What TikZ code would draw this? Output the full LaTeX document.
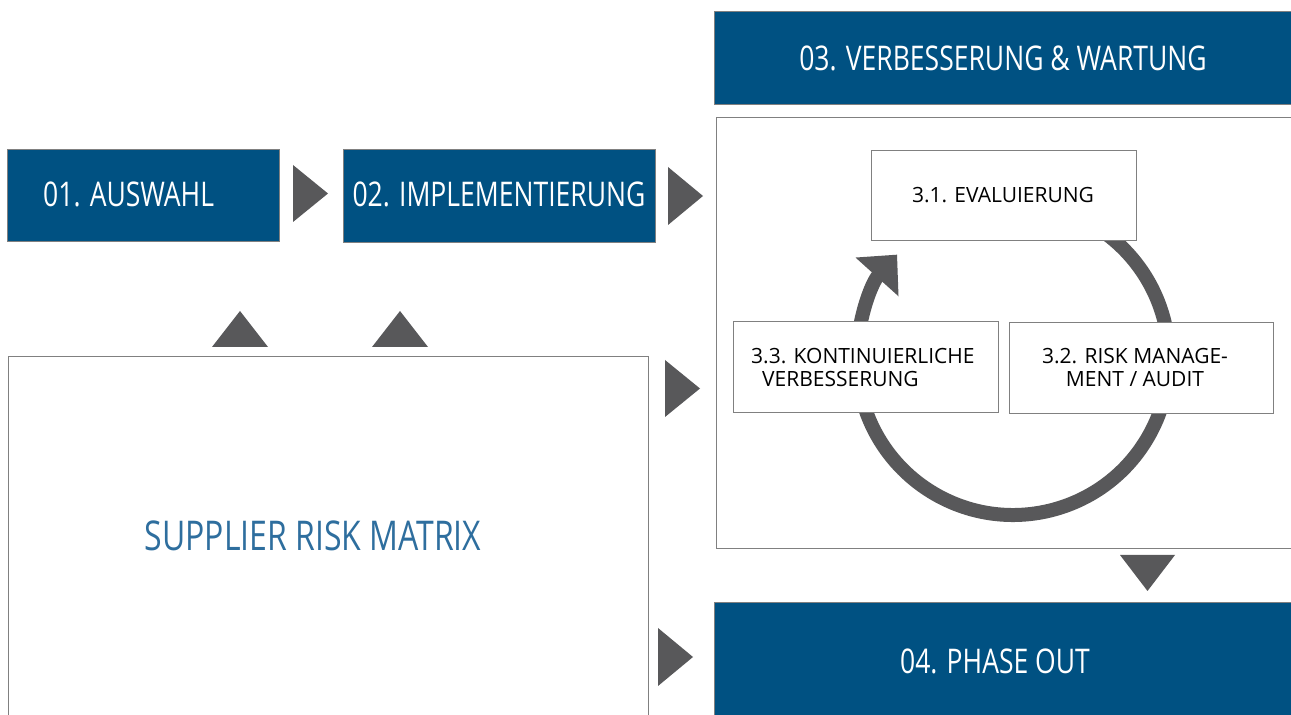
\documentclass[tikz,border=0pt]{standalone}
\usepackage{fontspec}
\setmainfont{Open Sans}
\newfontfamily\headfont[FakeStretch=0.78]{Open Sans}
\usetikzlibrary{arrows.meta}
\definecolor{navy}{HTML}{005182}
\definecolor{trigray}{HTML}{58585A}
\definecolor{framegray}{HTML}{808080}
\definecolor{matrixblue}{HTML}{2E6E9E}
\begin{document}
\begin{tikzpicture}[x=1pt,y=1pt,
  phase/.style={draw=framegray, line width=0.8pt, fill=navy, inner sep=0pt, anchor=north west},
  panel/.style={draw=framegray, line width=0.8pt, fill=white, inner sep=0pt, anchor=north west},
  headtxt/.style={text=white, font=\headfont\fontsize{34}{40}\selectfont, inner sep=0pt},
  subtxt/.style={font=\fontsize{21}{23}\selectfont, inner sep=0pt},
  pointer/.style={fill=trigray, draw=none}]
\useasboundingbox (0,0) rectangle (1291,715);
\clip (0,0) rectangle (1291,715);

% phase boxes
\node[phase, minimum width=272pt, minimum height=92pt] (p1) at (7,566) {};
\node[headtxt, anchor=west] (t1) at (43,521) {01. AUSWAHL};
\node[phase, minimum width=312pt, minimum height=93pt] (p2) at (343,566) {};
\node[headtxt] (t2) at (499,521) {02. IMPLEMENTIERUNG};
\node[phase, minimum width=590pt, minimum height=93pt] (p3) at (714,704) {};
\node[headtxt] (t3) at (1003,657) {03. VERBESSERUNG \& WARTUNG};
\node[panel, minimum width=590pt, minimum height=431pt] (c3) at (716,598) {};
\node[phase, minimum width=590pt, minimum height=130pt] (p4) at (714,113) {};
\node[headtxt] (t4) at (995,54) {04. PHASE OUT};

% supplier risk matrix
\node[panel, minimum width=640pt, minimum height=380pt] (srm) at (8,359) {};
\node[text=matrixblue, font=\headfont\fontsize{41}{48}\selectfont, inner sep=0pt] (srmt) at (313,179) {SUPPLIER RISK MATRIX};

% cycle
\coordinate (cc) at (1013,356);
\draw[trigray, line width=14pt, -{Triangle[length=30pt, width=56pt]}]
  (cc) ++(60:156) arc[start angle=60, end angle=-222, radius=156];

\node[panel, minimum width=265pt, minimum height=90pt] (s1) at (871,565) {};
\node[subtxt] (s1t) at (1003,520) {3.1. EVALUIERUNG};
\node[panel, minimum width=265pt, minimum height=91pt] (s3) at (733,394) {};
\node[subtxt, align=left, anchor=west] (s3t) at (751,347.5) {3.3. KONTINUIERLICHE\\\hspace*{11pt}VERBESSERUNG};
\node[panel, minimum width=264pt, minimum height=91pt] (s2) at (1009,393) {};
\node[subtxt, align=center] (s2t) at (1135,347.5) {3.2. RISK MANAGE-\\MENT / AUDIT};

% pointers
\fill[pointer] (293,550) -- (328,521.5) -- (293,493) -- cycle;
\fill[pointer] (668,548) -- (703,519) -- (668,490) -- cycle;
\fill[pointer] (665,355) -- (700,326.5) -- (665,298) -- cycle;
\fill[pointer] (658,87) -- (693,58) -- (658,29) -- cycle;
\fill[pointer] (212,368) -- (240,404) -- (268,368) -- cycle;
\fill[pointer] (372,368) -- (400,404) -- (428,368) -- cycle;
\fill[pointer] (1120,160) -- (1147.5,124) -- (1175,160) -- cycle;
\end{tikzpicture}
\end{document}
